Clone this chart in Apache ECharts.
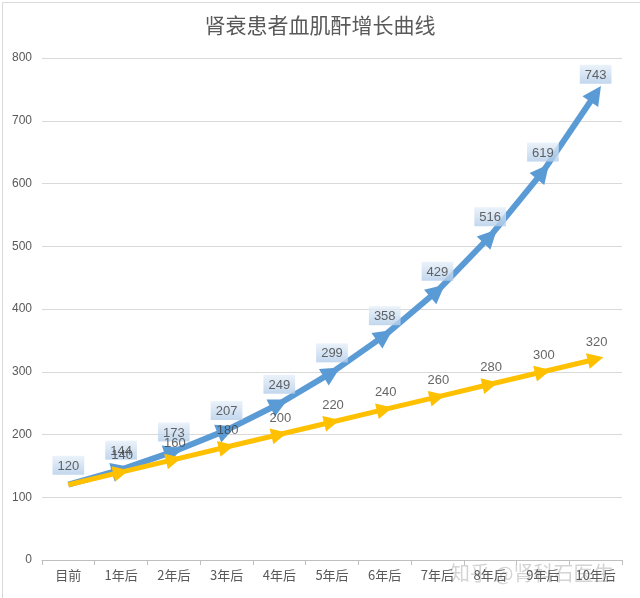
<!DOCTYPE html>
<html><head><meta charset="utf-8">
<script src="https://cdn.jsdelivr.net/npm/echarts@6/dist/echarts.min.js"></script>
<style>html,body{margin:0;padding:0;background:#fff}#c{width:640px;height:598px}</style>
</head><body><div id="c"></div>
<script>
const categories = ['目前','1年后','2年后','3年后','4年后','5年后','6年后','7年后','8年后','9年后','10年后'];
const blueValues = [120,144,173,207,249,299,358,429,516,619,743];
const yellowValues = [120,140,160,180,200,220,240,260,280,300,320];
const yTicks = [0,100,200,300,400,500,600,700,800];

const BLUE = '#5B9BD5', YELLOW = '#FFC000';
function segs(vals){
  const out=[];
  for(let i=0;i<vals.length-1;i++) out.push({coords:[[i,vals[i]],[i+1,vals[i+1]]]});
  return out;
}
const chart = echarts.init(document.getElementById('c'));
chart.setOption({
  animation:false,
  backgroundColor:'#fff',
  title:{text:'肾衰患者血肌酐增长曲线',left:'center',top:10,
    textStyle:{fontFamily:'Noto Sans CJK SC',fontSize:21,fontWeight:'normal',color:'#595959'}},
  grid:{left:42,right:18,top:58,bottom:38},
  xAxis:{type:'category',data:categories,boundaryGap:true,
    axisLine:{lineStyle:{color:'#bfbfbf'}},
    axisTick:{show:true,length:5,lineStyle:{color:'#bfbfbf'}},
    axisLabel:{color:'#595959',fontSize:13,margin:9,fontFamily:'Noto Sans CJK SC'}},
  yAxis:{type:'value',min:0,max:800,interval:100,
    axisLine:{show:false},axisTick:{show:false},
    axisLabel:{color:'#595959',fontSize:12,margin:10},
    splitLine:{lineStyle:{color:'#d9d9d9'}}},
  series:[
    {type:'lines',coordinateSystem:'cartesian2d',z:3,
     data:segs(blueValues),symbol:['none','triangle'],symbolSize:[0,19],
     lineStyle:{color:BLUE,width:6,opacity:1}},
    {type:'scatter',data:blueValues,symbol:'circle',symbolSize:2,z:6,
     itemStyle:{color:'rgba(0,0,0,0)'},
     label:{show:true,position:'top',distance:9,color:'#404040',fontSize:13,
       padding:[4,5,2,5],
       backgroundColor:{type:'linear',x:0,y:0,x2:0,y2:1,colorStops:[{offset:0,color:'#e6eff9'},{offset:1,color:'#b3cde9'}]}}},
    {type:'lines',coordinateSystem:'cartesian2d',z:5,
     data:segs(yellowValues),symbol:['none','triangle'],symbolSize:[0,16],
     lineStyle:{color:YELLOW,width:5,opacity:1}},
    {type:'scatter',data:yellowValues,symbol:'circle',symbolSize:2,z:7,
     itemStyle:{color:'rgba(0,0,0,0)'},
     label:{show:true,position:'top',distance:9,offset:[1,0],color:'#404040',fontSize:13,
       formatter:p=>p.dataIndex===0?'':String(p.value[1]!==undefined?p.value[1]:p.value)}}
  ],
  graphic:[
    {type:'rect',left:0,top:0,shape:{width:639,height:597},style:{fill:'none',stroke:'#d9d9d9',lineWidth:1},silent:true},
    {type:'text',left:450,top:563,style:{text:'知乎 @肾科石医生',fill:'rgba(160,160,160,0.45)',font:'20px "Noto Sans CJK SC"'},silent:true}
  ]
});
</script></body></html>
